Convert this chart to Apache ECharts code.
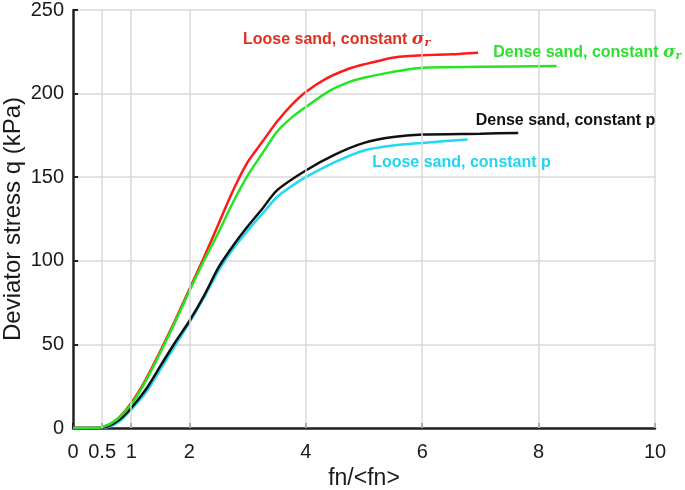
<!DOCTYPE html>
<html lang="en">
  <head>
    <meta charset="UTF-8" />
    <title>deviator stress</title>
    <script src="https://cdn.jsdelivr.net/npm/echarts@6/dist/echarts.min.js"></script>
    <style>
      body { margin: 0; background: #fff; }
    </style>
  </head>
  <body>
    <div id="main" style="width: 685px; height: 490px;"></div>
    <script type="text/javascript">
      // tick values on the x axis (not evenly spaced)
      var xTicks = [0, 0.5, 1, 2, 4, 6, 8, 10];

      // loose sand, constant sigma_r (red)
      var looseSigX = [0, 0.3, 0.5, 0.75, 1, 1.25, 1.5, 1.75, 2, 2.25, 2.5, 2.75, 3, 3.25, 3.5, 3.75, 4, 4.35, 4.75, 5.0, 5.3, 5.6, 6.0, 6.5, 6.96];
      var looseSigY = [0, 0, 0.5, 5, 15, 29, 46, 64, 83, 102, 122, 142, 159, 171, 183, 193, 201, 209, 215, 217.5, 220, 222, 223, 223.5, 224.5];
      // dense sand, constant sigma_r (green)
      var denseSigX = [0, 0.3, 0.5, 0.75, 1, 1.25, 1.5, 1.75, 2, 2.25, 2.5, 2.75, 3, 3.25, 3.5, 3.75, 4, 4.4, 4.75, 5, 5.5, 6, 7, 8.31];
      var denseSigY = [0, 0, 0.5, 5, 14, 28, 45, 63, 82, 100, 117, 135, 151, 164, 177, 185.5, 192, 201.5, 207, 209.5, 213, 215.5, 216, 216.5];
      // dense sand, constant p (black)
      var densePX = [0, 0.4, 0.6, 0.8, 1, 1.25, 1.5, 1.75, 2, 2.25, 2.5, 2.75, 3, 3.25, 3.5, 4, 4.5, 5, 5.5, 6, 7, 7.65];
      var densePY = [0, 0, 1, 5, 12, 23, 37, 51, 64, 79, 96, 109, 120.5, 131, 142, 154, 163.5, 170.5, 174, 175.5, 176, 176.5];
      // loose sand, constant p (cyan)
      var loosePX = [0, 0.4, 0.6, 0.8, 1, 1.25, 1.5, 1.75, 2, 2.25, 2.5, 2.75, 3, 3.25, 3.5, 3.75, 4, 4.5, 5, 5.5, 6, 6.78];
      var loosePY = [0, 0, 0.5, 4, 11, 21, 35, 49, 63, 78, 94, 107, 118, 128, 138, 144.5, 150, 159, 166, 169, 170.5, 172.5];

      // curve labels: text, anchor x, anchor y, colour
      var labelText = ["Loose sand, constant {s|σ}{r|r}", "Dense sand, constant {s|σ}{r|r}", "Dense sand, constant p", "Loose sand, constant p"];
      var labelX = [2.92, 7.22, 6.92, 5.14];
      var labelY = [232.5, 224.7, 184, 159];
      var labelColor = ["#e0301e", "#2ee02e", "#111111", "#22d4f0"];

      function pairs(xs, ys) {
        var out = [];
        for (var i = 0; i < xs.length; i++) out.push([xs[i], ys[i]]);
        return out;
      }

      var font = "Liberation Sans, Arial, sans-serif";
      var myChart = echarts.init(document.getElementById("main"));

      var labelPoints = [];
      for (var i = 0; i < labelText.length; i++) {
        labelPoints.push({
          coord: [labelX[i], labelY[i]],
          label: {
            show: true,
            position: "right",
            distance: 0,
            formatter: labelText[i],
            color: labelColor[i],
            fontFamily: font,
            fontWeight: "bold",
            fontSize: 16,
            rich: {
              s: { fontFamily: "DejaVu Serif, serif", fontStyle: "italic", fontSize: 17, color: labelColor[i] },
              r: { fontFamily: "DejaVu Serif, serif", fontStyle: "italic", fontSize: 11, color: labelColor[i], padding: [7, 0, 0, 0] }
            }
          }
        });
      }

      var gridLines = [];
      for (var j = 1; j < xTicks.length; j++) gridLines.push({ xAxis: xTicks[j] });

      function curve(name, data, color) {
        return {
          name: name,
          type: "line",
          data: data,
          showSymbol: false,
          smooth: 0.25,
          lineStyle: { color: color, width: 2.5 },
          animation: false,
          z: 3
        };
      }

      var option = {
        animation: false,
        grid: { left: 73, right: 30, top: 10, bottom: 62, containLabel: false, outerBoundsMode: "none" },
        xAxis: {
          type: "value",
          min: 0,
          max: 10,
          name: "fn/<fn>",
          nameLocation: "middle",
          nameGap: 37,
          nameTextStyle: { fontFamily: font, fontSize: 23, color: "#1a1a1a" },
          axisLine: { onZero: false, lineStyle: { color: "#222", width: 2.5 } },
          axisTick: { inside: true, length: 5, customValues: xTicks, lineStyle: { color: "#222", width: 2 } },
          axisLabel: { customValues: xTicks, margin: 14, fontFamily: font, fontSize: 20, color: "#1a1a1a" },
          splitLine: { show: false }
        },
        yAxis: {
          type: "value",
          min: 0,
          max: 250,
          interval: 50,
          name: "Deviator stress q (kPa)",
          nameLocation: "middle",
          nameGap: 48,
          nameMoveOverlap: false,
          nameTextStyle: { fontFamily: font, fontSize: 24, color: "#1a1a1a" },
          axisLine: { show: true, lineStyle: { color: "#222", width: 2.5 } },
          axisTick: { show: true, inside: true, length: 5, lineStyle: { color: "#222", width: 2 } },
          axisLabel: { margin: 9, fontFamily: font, fontSize: 20, color: "#1a1a1a" },
          splitLine: { show: true, lineStyle: { color: "#d9d9d9", width: 1.5 } }
        },
        series: [
          {
            type: "line",
            data: [],
            silent: true,
            z: 1,
            markLine: {
              silent: true,
              symbol: "none",
              label: { show: false },
              animation: false,
              lineStyle: { color: "#d9d9d9", width: 1.5, type: "solid" },
              data: gridLines
            }
          },
          curve("Loose sand, constant p", pairs(loosePX, loosePY), "#22d8f2"),
          curve("Dense sand, constant p", pairs(densePX, densePY), "#111111"),
          curve("Loose sand, constant sigma_r", pairs(looseSigX, looseSigY), "#ff1a1a"),
          curve("Dense sand, constant sigma_r", pairs(denseSigX, denseSigY), "#22e622"),
          {
            type: "scatter",
            data: [],
            silent: true,
            markPoint: {
              symbol: "circle",
              symbolSize: 0,
              animation: false,
              data: labelPoints
            }
          }
        ]
      };

      myChart.setOption(option);
    </script>
  </body>
</html>
